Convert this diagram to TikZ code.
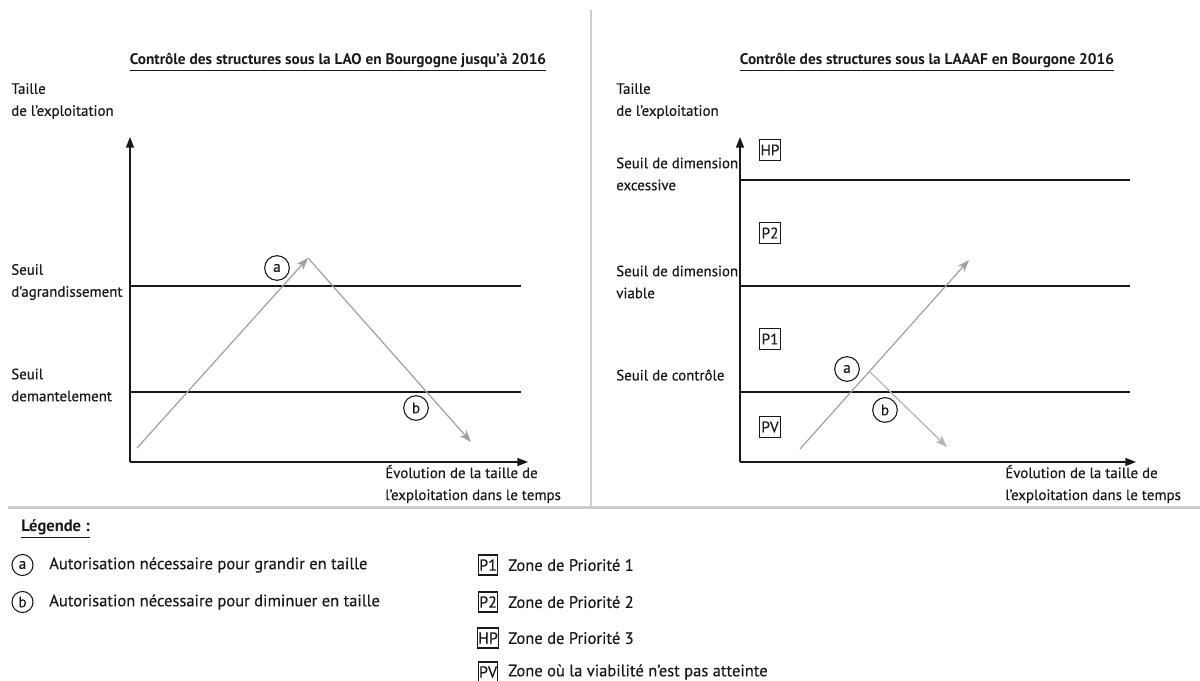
\documentclass[tikz,border=0pt]{standalone}
\usepackage{fontspec}
\setmainfont{PT Sans}[FakeBold=0.35]
\newfontfamily\titlefont{PT Sans Bold}
\usetikzlibrary{arrows.meta}
\definecolor{arrgray}{RGB}{160,160,160}
\definecolor{arrgrayb}{RGB}{180,180,180}
\definecolor{sepgray}{RGB}{205,205,205}
\definecolor{ink}{RGB}{25,25,25}
\begin{document}
\begin{tikzpicture}[x=0.75pt,y=-0.75pt,
  txt/.style={font=\fontsize{11.2}{16.5}\selectfont, inner sep=0pt, align=left, anchor=west, text=ink},
  leg/.style={font=\fontsize{12.4}{15}\selectfont, inner sep=0pt, anchor=west, text=ink},
  ttl/.style={font=\titlefont\fontsize{11.5}{13}\selectfont, inner sep=0pt, text=ink},
  axisline/.style={ink, line width=1.1pt, -{Triangle[length=8pt,width=6pt]}},
  seuil/.style={ink, line width=0.9pt},
  trend/.style={arrgray, line width=0.9pt, -{Stealth[length=9pt,width=6.5pt,inset=2.5pt]}},
  trendb/.style={arrgrayb, line width=0.9pt, -{Stealth[length=9pt,width=6.5pt,inset=2.5pt]}},
  lettre/.style={circle, draw=ink, line width=0.8pt, minimum size=18.5pt, inner sep=0pt, font=\fontsize{11.5}{13}\selectfont, text=ink},
  lettrepetit/.style={lettre, minimum size=15.8pt},
  zone/.style={draw=ink, line width=0.8pt, minimum width=15.5pt, minimum height=15.5pt, inner sep=0.6pt, font=\fontsize{11.5}{13}\selectfont, text=ink},
  zonepetit/.style={zone, minimum width=11.5pt, minimum height=15pt, inner sep=0.3pt, font=\fontsize{12}{13}\selectfont},
  sepline/.style={sepgray, line width=1.6pt}
]
\useasboundingbox (0,0) rectangle (1200,681);

% separators
\coordinate (S1) at (591,10);
\coordinate (S2) at (591,506);
\coordinate (S3) at (8,507.5);
\coordinate (S4) at (1200,507.5);
\draw[sepline] (S1) -- (S2);
\draw[sepline] (S3) -- (S4);

% ---------- left chart ----------
\node[ttl] (t1) at (338,62) {\underline{Contrôle des structures sous la LAO en Bourgogne jusqu’à 2016}};
\node[txt] (ly1) at (11,101) {Taille\\de l’exploitation};
\node[txt] (ls1) at (11,282) {Seuil\\d’agrandissement};
\node[txt] (ls2) at (11,385) {Seuil\\demantelement};
\node[txt] (lx1) at (385,484) {Évolution de la taille de\\l’exploitation dans le temps};

\coordinate (O1) at (130,462);
\coordinate (Y1) at (130,137);
\coordinate (X1) at (528,462);
\draw[axisline] (O1) -- (Y1);
\draw[axisline] (O1) -- (X1);

\coordinate (A1s) at (130,286);
\coordinate (A1e) at (521,286);
\coordinate (D1s) at (130,392);
\coordinate (D1e) at (521,392);
\draw[seuil] (A1s) -- (A1e);
\draw[seuil] (D1s) -- (D1e);

\coordinate (P0) at (137,448);
\coordinate (P1) at (308,258);
\coordinate (P2) at (471,442);
\draw[trend] (P0) -- (P1);
\draw[trend] (P1) -- (P2);

\node[lettre] (ca1) at (277,268) {a};
\node[lettre] (cb1) at (416,408) {b};

% ---------- right chart ----------
\node[ttl] (t2) at (927,62) {\underline{Contrôle des structures sous la LAAAF en Bourgone 2016}};
\node[txt] (ry2) at (616,101) {Taille\\de l’exploitation};
\node[txt] (rs1) at (616,174) {Seuil de dimension\\excessive};
\node[txt] (rs2) at (616,282) {Seuil de dimension\\viable};
\node[txt] (rs3) at (616,375) {Seuil de contrôle};
\node[txt] (rx2) at (1005,484) {Évolution de la taille de\\l’exploitation dans le temps};

\coordinate (O2) at (740,462);
\coordinate (Y2) at (740,137);
\coordinate (X2) at (1136,462);
\draw[axisline] (O2) -- (Y2);
\draw[axisline] (O2) -- (X2);

\coordinate (E2s) at (740,180);
\coordinate (E2e) at (1130,180);
\coordinate (V2s) at (740,286);
\coordinate (V2e) at (1130,286);
\coordinate (C2s) at (740,392);
\coordinate (C2e) at (1130,392);
\draw[seuil] (E2s) -- (E2e);
\draw[seuil] (V2s) -- (V2e);
\draw[seuil] (C2s) -- (C2e);

\node[zone] (zhp) at (770,150) {HP};
\node[zone] (zp2) at (770,233) {P2};
\node[zone] (zp1) at (770,339) {P1};
\node[zone] (zpv) at (770,427) {PV};

\coordinate (Q0) at (800,449);
\coordinate (Q1) at (969,260);
\coordinate (R0) at (869,371);
\coordinate (R1) at (947,447);
\draw[trend] (Q0) -- (Q1);
\draw[trendb] (R0) -- (R1);

\node[lettre] (ca2) at (847,369) {a};
\node[lettre] (cb2) at (885,410) {b};

% ---------- legend ----------
\node[leg, font=\titlefont\fontsize{12.4}{15}\selectfont] (lg) at (21,529) {\underline{Légende :}};
\node[lettrepetit] (la) at (22.5,565) {a};
\node[leg] (lat) at (49,565) {Autorisation nécessaire pour grandir en taille};
\node[lettrepetit] (lb) at (22.5,602) {b};
\node[leg] (lbt) at (49,602) {Autorisation nécessaire pour diminuer en taille};

\node[zonepetit] (kp1) at (488,565) {P1};
\node[leg] (kp1t) at (508,565) {Zone de Priorité 1};
\node[zonepetit] (kp2) at (488,602) {P2};
\node[leg] (kp2t) at (508,602) {Zone de Priorité 2};
\node[zonepetit] (khp) at (488,638) {HP};
\node[leg] (khpt) at (508,638) {Zone de Priorité 3};
\node[zonepetit] (kpv) at (488,672) {PV};
\node[leg] (kpvt) at (508,672) {Zone où la viabilité n’est pas atteinte};
\end{tikzpicture}
\end{document}
